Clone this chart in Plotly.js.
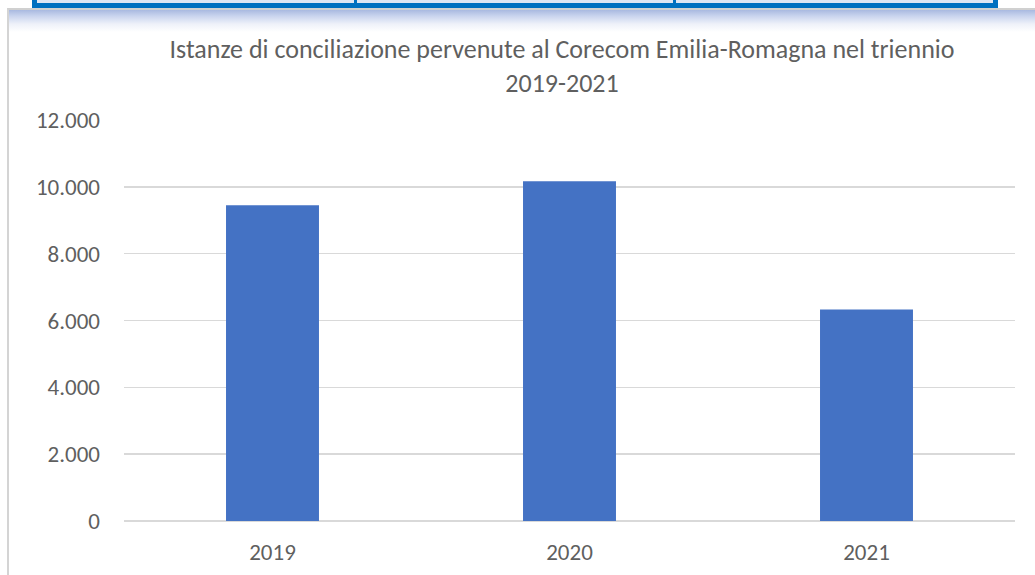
<!DOCTYPE html>
<html>
<head>
<meta charset="utf-8">
<script src="https://cdn.plot.ly/plotly-3.0.1.min.js"></script>
<style>
  html, body { margin: 0; padding: 0; background: #ffffff; }
  #wrap { position: relative; width: 1035px; height: 575px; overflow: hidden; background: #ffffff; }
  #topTable { position: absolute; left: 32px; top: -6px; width: 966px; height: 14px; box-sizing: border-box;
              border: 5px solid #0070C0; border-top: none; background: #dfe6f3; display: flex; }
  #topTable div { flex: 1; border-right: 3px solid #0070C0; }
  #topTable div:last-child { border-right: none; }
  #frame { position: absolute; left: 7px; top: 8px; width: 1040px; height: 600px; box-sizing: border-box;
           border-left: 2px solid #d4d4d4; border-top: 2px solid #d0d0d0;
           background: linear-gradient(to bottom, #a9b9e0 0px, #c9d4ee 6px, #eef1f9 14px, #ffffff 22px); }
  #chart { position: absolute; left: 0; top: 0; width: 1035px; height: 575px; }
</style>
</head>
<body>
<div id="wrap">
  <div id="frame"></div>
  <div id="topTable"><div></div><div></div><div></div></div>
  <div id="chart"></div>
</div>
<script>
const categories = ["2019", "2020", "2021"];
const istanze = [9450, 10170, 6330];
const yTickValues = [0, 2000, 4000, 6000, 8000, 10000, 12000];

const textColor = "#5f5f5f";
const fontFamily = "Carlito, Calibri, 'Open Sans', sans-serif";

const trace = {
  type: "bar",
  x: categories,
  y: istanze,
  marker: { color: "#4472C4", line: { width: 0 } },
  hoverinfo: "x+y"
};

const layout = {
  width: 1035,
  height: 575,
  margin: { l: 124, r: 20, t: 120, b: 54, pad: 0 },
  paper_bgcolor: "rgba(0,0,0,0)",
  plot_bgcolor: "rgba(0,0,0,0)",
  separators: ",.",
  bargap: 0.687,
  showlegend: false,
  title: {
    text: "Istanze di conciliazione pervenute al Corecom Emilia-Romagna nel triennio<br>2019-2021",
    font: { family: fontFamily, size: 26, color: textColor },
    x: 562 / 1035,
    xref: "container",
    xanchor: "center",
    y: 1 - 58 / 575,
    yref: "container",
    yanchor: "middle"
  },
  xaxis: {
    type: "category",
    tickfont: { family: fontFamily, size: 23, color: textColor },
    showgrid: false,
    showline: false,
    zeroline: false,
    ticks: "",
    ticklabelstandoff: 15
  },
  yaxis: {
    range: [0, 12000],
    tickvals: yTickValues,
    tickformat: ",d",
    tickfont: { family: fontFamily, size: 23, color: textColor },
    showgrid: true,
    gridcolor: "#d9d9d9",
    gridwidth: 1.5,
    zeroline: true,
    zerolinecolor: "#d9d9d9",
    zerolinewidth: 2,
    showline: false,
    ticks: "",
    ticklabelstandoff: 23
  }
};

Plotly.newPlot("chart", [trace], layout, { displayModeBar: false, staticPlot: true });
</script>
</body>
</html>
